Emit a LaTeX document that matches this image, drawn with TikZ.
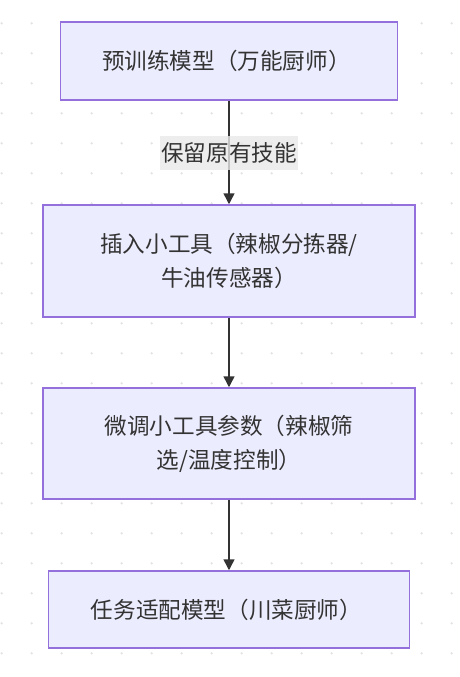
\documentclass[tikz,border=0pt]{standalone}
\usepackage{fontspec}
\setmainfont{Noto Sans CJK SC}
\usepackage{tikz}
\usetikzlibrary{positioning, arrows.meta}
\definecolor{boxfill}{HTML}{ECECFF}
\definecolor{boxline}{HTML}{9370DB}
\definecolor{ink}{HTML}{333333}
\definecolor{dotgray}{HTML}{E3E3E3}
\definecolor{labelbg}{HTML}{E8E8E8}
\newcommand{\boxfont}{\fontsize{22.6}{34}\selectfont}

\tikzset{
	every block/.style={draw=boxline, fill=boxfill, line width=1.5pt, text=ink,
		align=center, font=\boxfont},
	edge label/.style={fill=labelbg, fill opacity=0.8, text opacity=1, text=ink,
		inner xsep=1pt, inner ysep=0pt, minimum height=34pt, font=\boxfont},
}

\begin{document}
\begin{tikzpicture}[x=1pt, y=-1pt, >={Triangle[length=11pt, width=11pt]}]

		\useasboundingbox (0,0) rectangle (459,677);

		% Dot grid
		\foreach \i in {0,...,15}
			\foreach \j in {0,...,21}
				\fill [dotgray] (1.7+30*\i, 23.3+30*\j) circle (1.3pt);

		% Pretrained
		\node [every block, minimum width=337pt, minimum height=78pt] (pre) at (229,61) {
			预训练模型（万能厨师）
		};

		% Insert tools
		\node [every block, minimum width=372pt, minimum height=112pt, below=103.5pt of pre] (insert) {
			插入小工具（辣椒分拣器/\\牛油传感器）
		};

		% Tune tools
		\node [every block, minimum width=372pt, minimum height=111pt, below=69.5pt of insert] (tune) {
			微调小工具参数（辣椒筛\\选/温度控制）
		};

		% Adapted
		\node [every block, minimum width=361pt, minimum height=77pt, below=70.5pt of tune] (adapted) {
			任务适配模型（川菜厨师）
		};

		\draw [->, line width=1.5pt, color=ink] (pre) --
			node [edge label, midway] {保留原有技能}
			(insert);
		\draw [->, line width=1.5pt, color=ink] (insert) -- (tune);
		\draw [->, line width=1.5pt, color=ink] (tune) -- (adapted);

	\end{tikzpicture}
\end{document}
